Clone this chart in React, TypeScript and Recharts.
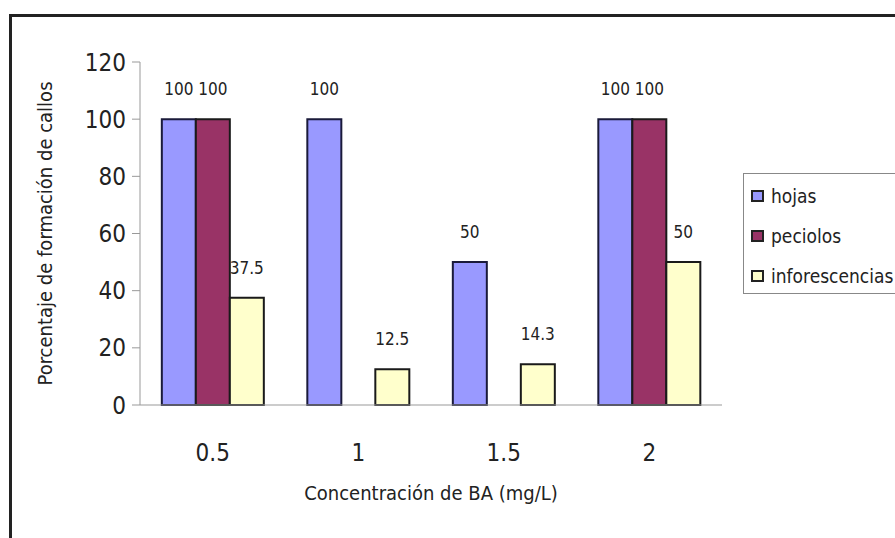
import React from "react";
import { BarChart, Bar, XAxis, YAxis, LabelList } from "recharts";

const categories = ["0.5", "1", "1.5", "2"];
const hojas = [100, 100, 50, 100];
const peciolos = [100, 0, 0, 100];
const inflorescencias = [37.5, 12.5, 14.3, 50];
const yTicks = [0, 20, 40, 60, 80, 100, 120];
const seriesNames = ["hojas", "peciolos", "inforescencias"];

const data = categories.map((c, i) => ({
  conc: c,
  hojas: hojas[i],
  peciolos: peciolos[i],
  inflorescencias: inflorescencias[i],
}));

const NARROW = "'DejaVu Sans Condensed', 'Liberation Sans Narrow', 'DejaVu Sans', sans-serif";
const REGULAR = "'Liberation Sans', Arial, sans-serif";
const narrowStyle = { fontFamily: NARROW, fontStretch: "condensed" as const };

const colors = ["#9999FF", "#993366", "#FFFFCC"];

function LegendBox() {
  return (
    <div
      style={{
        position: "absolute",
        left: 743,
        top: 173,
        width: 175,
        height: 121,
        border: "1.5px solid #888",
        background: "#fff",
        boxSizing: "border-box",
        padding: "2px 0 0 7px",
        fontSize: 19,
        color: "#222",
        ...narrowStyle,
      }}
    >
      {seriesNames.map((name, i) => (
        <div key={name} style={{ display: "flex", alignItems: "center", height: 40 }}>
          <span
            style={{
              display: "inline-block",
              width: 9,
              height: 8,
              background: colors[i],
              border: "2px solid #222",
              marginRight: 7,
            }}
          />
          <span>{name}</span>
        </div>
      ))}
    </div>
  );
}

export default function App() {
  return (
    <div
      style={{
        position: "fixed",
        left: 0,
        top: 0,
        width: 895,
        height: 538,
        overflow: "hidden",
        background: "#fff",
      }}
    >
      {/* outer frame, cut off on the right and bottom */}
      <div
        style={{
          position: "absolute",
          left: 9,
          top: 14,
          width: 1000,
          height: 1000,
          borderTop: "3px solid #222",
          borderLeft: "3px solid #222",
        }}
      />
      <BarChart
        width={895}
        height={538}
        data={data}
        margin={{ top: 62, right: 173, left: 0, bottom: 72 }}
        barCategoryGap="15%"
        barGap={0}
      >
        {/* boundary ticks between categories, like the original */}
        <XAxis
          type="number"
          domain={[0, 4]}
          ticks={[0, 1, 2, 3, 4]}
          tick={false}
          height={1}
          stroke="#999"
          tickSize={8}
        />
        <XAxis
          xAxisId="cat"
          dataKey="conc"
          height={60}
          axisLine={false}
          tickLine={false}
          tickSize={0}
          tickMargin={38}
          tick={{ fontSize: 24, fill: "#222", ...narrowStyle }}
          label={{
            value: "Concentración de BA (mg/L)",
            position: "insideBottom",
            offset: -34,
            style: { fontSize: 20, fill: "#222", ...narrowStyle },
          }}
        />
        <YAxis
          width={140}
          domain={[0, 120]}
          ticks={yTicks}
          stroke="#999"
          tickSize={8}
          tickMargin={6}
          tick={{ fontSize: 24, fill: "#222", ...narrowStyle }}
          label={{
            value: "Porcentaje de formación de callos",
            angle: -90,
            position: "center",
            dx: -25,
            style: { fontSize: 20, fill: "#222", ...narrowStyle, textAnchor: "middle" },
          }}
        />
        <Bar xAxisId="cat" dataKey="hojas" name="hojas" fill={colors[0]} stroke="#1a1a3a" strokeWidth={2} isAnimationActive={false}>
          <LabelList dataKey="hojas" position="top" offset={24} style={{ fontSize: 17, fill: "#222", ...narrowStyle }} />
        </Bar>
        <Bar xAxisId="cat" dataKey="peciolos" name="peciolos" fill={colors[1]} stroke="#1a1a1a" strokeWidth={2} isAnimationActive={false}>
          <LabelList dataKey="peciolos" position="top" offset={24} style={{ fontSize: 17, fill: "#222", ...narrowStyle }} />
        </Bar>
        <Bar xAxisId="cat" dataKey="inflorescencias" name="inforescencias" fill={colors[2]} stroke="#1a1a1a" strokeWidth={2} isAnimationActive={false}>
          <LabelList dataKey="inflorescencias" position="top" offset={24} style={{ fontSize: 17, fill: "#222", ...narrowStyle }} />
        </Bar>
      </BarChart>
      <LegendBox />
    </div>
  );
}
